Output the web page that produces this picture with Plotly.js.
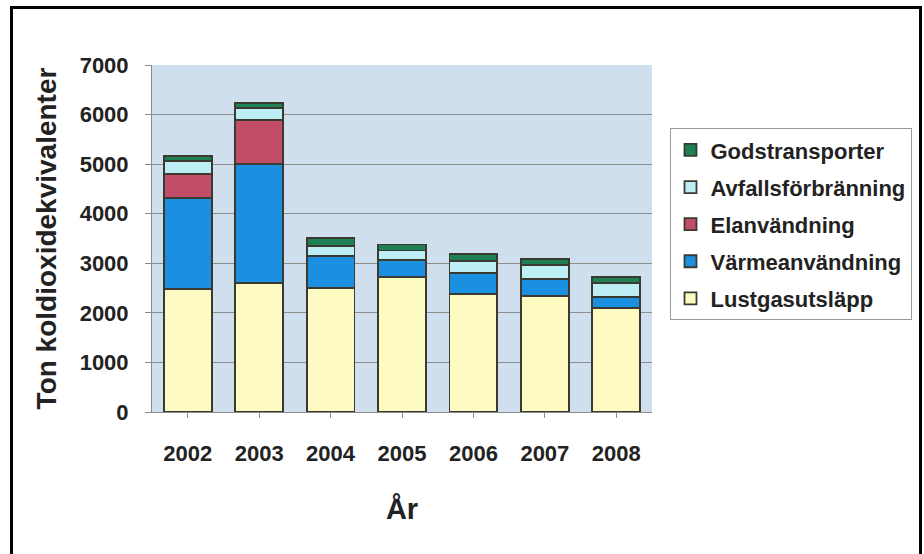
<!DOCTYPE html>
<html><head><meta charset="utf-8">
<script src="https://cdn.plot.ly/plotly-3.0.1.min.js"></script>
<style>
html,body{margin:0;padding:0;background:#fff;}
#wrap{position:relative;width:924px;height:554px;}
#chart{width:924px;height:554px;}
#frame{position:absolute;left:10px;top:6px;width:906px;height:546px;border:3px solid #000;pointer-events:none;}
</style></head>
<body>
<div id="wrap"><div id="chart"></div><div id="frame"></div></div>
<script>
var years = ['2002','2003','2004','2005','2006','2007','2008'];
var lustgas = [2480, 2600, 2500, 2720, 2380, 2340, 2100];
var varme   = [1840, 2400, 650, 340, 420, 340, 220];
var el      = [480, 890, 0, 0, 0, 0, 0];
var avfall  = [260, 240, 200, 200, 240, 280, 280];
var gods    = [100, 100, 160, 120, 140, 120, 120];
var yTicks  = [0,1000,2000,3000,4000,5000,6000,7000];

var font = 'Liberation Sans, Arial, sans-serif';
function tr(name, vals, color, rank){
  return {type:'bar', name:name, x:years, y:vals, legendgroup:name, legendrank:rank,
    marker:{color:color, line:{color:'#3a3a30', width:1.8}}};
}
var data = [
  tr('Lustgasutsläpp', lustgas, '#fdfbc2', 5),
  tr('Värmeanvändning', varme, '#1b8fe0', 4),
  tr('Elanvändning', el, '#c24d68', 3),
  tr('Avfallsförbränning', avfall, '#bdeef6', 2),
  tr('Godstransporter', gods, '#1f7f55', 1)
];
var layout = {
  width:924, height:554,
  margin:{l:152, r:272, t:65, b:142},
  barmode:'stack', bargap:0.33,
  paper_bgcolor:'#ffffff', plot_bgcolor:'#cfdfee',
  font:{family:font, color:'#222', size:16},
  xaxis:{tickfont:{size:22, family:font, weight:'bold'}, showline:true, linecolor:'#8a8a8a', linewidth:1,
    ticks:'outside', tickson:'boundaries', ticklen:5, tickcolor:'#8a8a8a', ticklabelstandoff:17,
    title:{text:'<b>År</b>', font:{size:29, family:font}, standoff:33}},
  yaxis:{range:[0,7000], tickvals:yTicks, tickfont:{size:22, family:font, weight:'bold'},
    showgrid:true, gridcolor:'#8c8c8c', gridwidth:1, showline:true, linecolor:'#8a8a8a', linewidth:1,
    ticks:'outside', ticklen:6, tickcolor:'#8a8a8a', zeroline:false, ticklabelstandoff:12,
    title:{text:'<b>Ton koldioxidekvivalenter</b>', font:{size:28, family:font}, standoff:14}},
  legend:{x:1.035, y:0.818, xanchor:'left', yanchor:'top', traceorder:'grouped', tracegroupgap:5.5,
    bordercolor:'#999', borderwidth:1, bgcolor:'#fff', font:{size:22, family:font, weight:'bold', color:'#222'},
    itemwidth:30}
};
Plotly.newPlot('chart', data, layout, {staticPlot:true});
</script>
</body></html>
